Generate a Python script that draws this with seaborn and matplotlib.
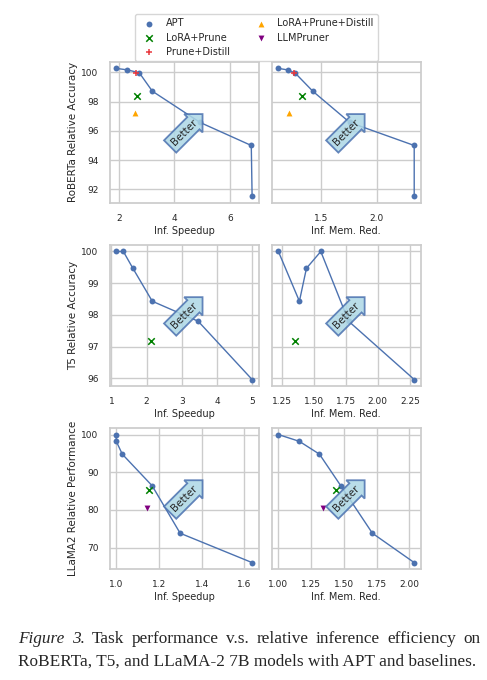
import matplotlib
matplotlib.use("Agg")
import matplotlib.pyplot as plt
import matplotlib.ticker as mticker
import pandas as pd
import seaborn as sns

# APT points per model (ordered by accuracy, high to low)
roberta_speedup = [1.90, 2.30, 2.73, 3.20, 4.92, 6.77, 6.80]
roberta_mem = [1.117, 1.199, 1.265, 1.425, 1.756, 2.334, 2.334]
roberta_acc = [100.28, 100.18, 99.98, 98.72, 96.58, 95.00, 91.51]

t5_speedup = [1.14, 1.34, 1.61, 2.16, 3.46, 4.99]
t5_mem = [1.224, 1.555, 1.443, 1.388, 1.772, 2.284]
t5_acc = [100.0, 100.0, 99.47, 98.43, 97.80, 95.96]

llama_speedup = [1.00, 1.00, 1.028, 1.168, 1.299, 1.636]
llama_mem = [1.00, 1.16, 1.313, 1.476, 1.717, 2.036]
llama_acc = [100.0, 98.2, 94.8, 86.4, 73.8, 66.0]

# baselines
roberta_base_method = ["LoRA+Prune", "LoRA+Prune+Distill", "Prune+Distill"]
roberta_base_speedup = [2.65, 2.56, 2.61]
roberta_base_mem = [1.328, 1.211, 1.259]
roberta_base_acc = [98.37, 97.22, 99.98]

t5_base_method = ["LoRA+Prune"]
t5_base_speedup = [2.13]
t5_base_mem = [1.357]
t5_base_acc = [97.16]

llama_base_method = ["LoRA+Prune", "LLMPruner"]
llama_base_speedup = [1.153, 1.145]
llama_base_mem = [1.44, 1.34]
llama_base_acc = [85.3, 80.6]

methods = ["APT", "LoRA+Prune", "Prune+Distill", "LoRA+Prune+Distill", "LLMPruner"]
palette = {"APT": "#4c72b0", "LoRA+Prune": "green", "Prune+Distill": "#e8383d",
           "LoRA+Prune+Distill": "orange", "LLMPruner": "purple"}
markers = {"APT": "o", "LoRA+Prune": "x", "Prune+Distill": "+",
           "LoRA+Prune+Distill": "^", "LLMPruner": "v"}

ylabels = ["RoBERTa Relative Accuracy", "T5 Relative Accuracy", "LLaMA2 Relative Performance"]


def make_df(sp, mem, acc, bm, bsp, bmem, bacc):
    apt = pd.DataFrame({"method": "APT", "speedup": sp, "mem": mem, "acc": acc})
    base = pd.DataFrame({"method": bm, "speedup": bsp, "mem": bmem, "acc": bacc})
    return apt, base


frames = [
    make_df(roberta_speedup, roberta_mem, roberta_acc, roberta_base_method,
            roberta_base_speedup, roberta_base_mem, roberta_base_acc),
    make_df(t5_speedup, t5_mem, t5_acc, t5_base_method,
            t5_base_speedup, t5_base_mem, t5_base_acc),
    make_df(llama_speedup, llama_mem, llama_acc, llama_base_method,
            llama_base_speedup, llama_base_mem, llama_base_acc),
]

xticks = [[2, 0.5], [1, 0.25], [0.2, 0.25]]
yticks = [2, 1, 10]

sns.set_theme(style="whitegrid")
plt.rcParams["font.family"] = ["DejaVu Sans"]
plt.rcParams["xtick.labelsize"] = 6.5
plt.rcParams["ytick.labelsize"] = 6.5
plt.rcParams["axes.labelsize"] = 7

fig, axes = plt.subplots(3, 2, figsize=(4.87, 6.80), dpi=100, sharey="row")
fig.subplots_adjust(left=109.5 / 487, right=421 / 487, top=1 - 62 / 680,
                    bottom=1 - 569 / 680, wspace=0.085, hspace=0.30)

legend_items = {}
for r, (apt, base) in enumerate(frames):
    allpts = pd.concat([apt, base])
    for c, xcol in enumerate(["speedup", "mem"]):
        ax = axes[r, c]
        line = apt.sort_values(xcol, kind="stable")
        sns.lineplot(data=line, x=xcol, y="acc", sort=False, estimator=None, ax=ax,
                     color=palette["APT"], linewidth=1, legend=False)
        for m in methods:
            sub = allpts[allpts["method"] == m]
            if sub.empty:
                continue
            filled = markers[m] in ("o", "^", "v")
            sns.scatterplot(data=sub, x=xcol, y="acc", color=palette[m],
                            marker=markers[m], s=18 if filled else 22,
                            linewidth=0 if filled else 1.1, ax=ax,
                            label=m, zorder=3)
        for h, l in zip(*ax.get_legend_handles_labels()):
            legend_items.setdefault(l, h)
        ax.get_legend().remove()
        ax.xaxis.set_major_locator(mticker.MultipleLocator(xticks[r][c]))
        ax.yaxis.set_major_locator(mticker.MultipleLocator(yticks[r]))
        ax.set_xlabel("Inf. Speedup" if c == 0 else "Inf. Mem. Red.", labelpad=2)
        if c == 0:
            ax.set_ylabel(ylabels[r], fontsize=7.5, labelpad=2.5)
        else:
            ax.set_ylabel("")
        ax.tick_params(pad=2)
        ax.text(0.5, 0.5, "Better", transform=ax.transAxes, rotation=45,
                ha="center", va="center", fontsize=7.5, zorder=5,
                bbox=dict(boxstyle="rarrow,pad=0.35", fc="lightblue",
                          ec="#4c72b0", lw=1.3, alpha=0.85))

fig.legend([legend_items[m] for m in methods], methods, loc="upper center", ncol=2,
           fontsize=7, bbox_to_anchor=(256.5 / 487, 1 - 9 / 680), frameon=True,
           handletextpad=0.7, columnspacing=2.2, borderpad=0.45, labelspacing=0.45)

# caption, first line justified across the width like the paper
cap_font = dict(family="Liberation Serif", fontsize=12.4, va="center", ha="left")
x0, x1 = 18, 481
y1, y2 = 1 - 639 / 680, 1 - 662 / 680
words = [("Figure", "italic"), ("3.", "italic"), ("Task", "normal"),
         ("performance", "normal"), ("v.s.", "normal"), ("relative", "normal"),
         ("inference", "normal"), ("efficiency", "normal"), ("on", "normal")]
fig.canvas.draw()
renderer = fig.canvas.get_renderer()
objs = []
widths = []
for w, st in words:
    t = fig.text(0, y1, w, style=st, **cap_font)
    widths.append(t.get_window_extent(renderer).width)
    objs.append(t)
gap = (x1 - x0 - sum(widths)) / (len(words) - 1)
xpos = x0
for t, wd in zip(objs, widths):
    t.set_x(xpos / 487)
    xpos += wd + gap
fig.text(x0 / 487, y2, "RoBERTa, T5, and LLaMA-2 7B models with APT and baselines.",
         **cap_font)

fig.savefig("out.png", dpi=100)
